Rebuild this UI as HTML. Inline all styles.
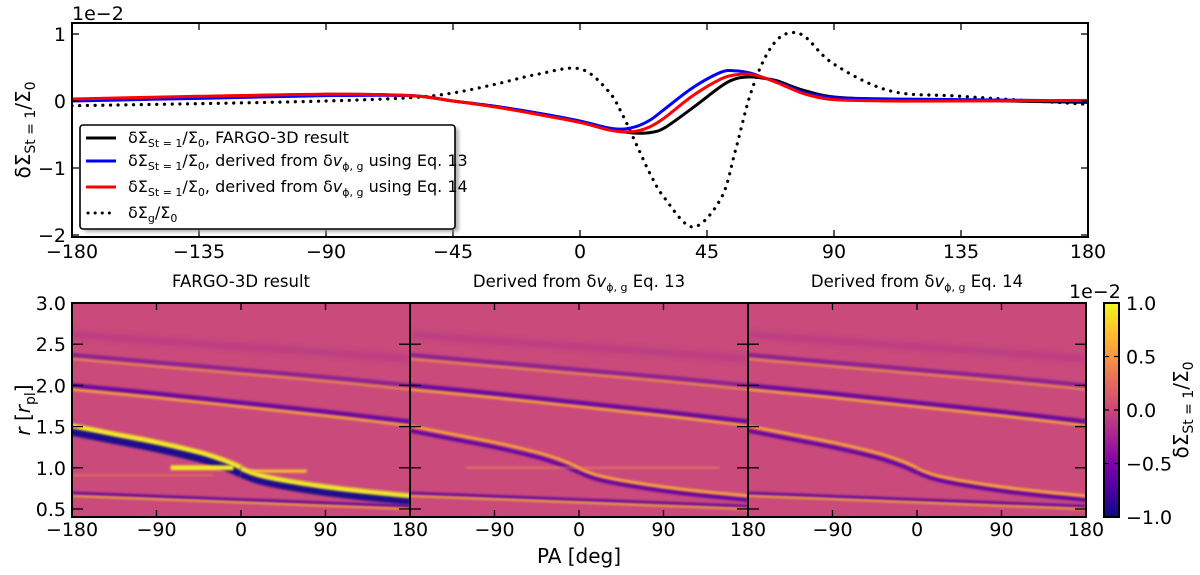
<!DOCTYPE html>
<html><head><meta charset="utf-8"><style>
html,body{margin:0;padding:0;background:#fff;width:1200px;height:575px;overflow:hidden}
svg text{font-family:"DejaVu Sans","Liberation Sans",sans-serif;fill:#000}
</style></head><body>
<svg id="fig" width="1200" height="575" viewBox="0 0 1200 575" xmlns="http://www.w3.org/2000/svg">
<defs>
<linearGradient id="plasma" x1="0" y1="1" x2="0" y2="0">
<stop offset="0" stop-color="#0d0887"/><stop offset="0.13" stop-color="#4c02a1"/><stop offset="0.25" stop-color="#7e03a8"/><stop offset="0.38" stop-color="#a92395"/><stop offset="0.5" stop-color="#cc4778"/><stop offset="0.63" stop-color="#e56b5d"/><stop offset="0.75" stop-color="#f89540"/><stop offset="0.88" stop-color="#fdc527"/><stop offset="1" stop-color="#f0f921"/>
</linearGradient>
<filter id="blur1" filterUnits="userSpaceOnUse" x="0" y="0" width="1200" height="575"><feGaussianBlur stdDeviation="1"/></filter>
<filter id="blur3" filterUnits="userSpaceOnUse" x="0" y="0" width="1200" height="575"><feGaussianBlur stdDeviation="3"/></filter>
<filter id="shadow" filterUnits="userSpaceOnUse" x="0" y="0" width="1200" height="575"><feGaussianBlur stdDeviation="1.5"/></filter>
<clipPath id="clip0"><rect x="72" y="303" width="338" height="214"/></clipPath>
<clipPath id="clip1"><rect x="410" y="303" width="338" height="214"/></clipPath>
<clipPath id="clip2"><rect x="748" y="303" width="338" height="214"/></clipPath>
<clipPath id="clipTop"><rect x="72" y="23" width="1016" height="214"/></clipPath>
</defs>
<g id="topPanel"></g>
<g id="bottomPanel"></g>
<g id="cbar"></g>
</svg>
<script>
// ---- top panel data (PA in deg, values in units of 1e-2) ----
const topPA = [-180,-135,-90,-60,-45,-30,-15,0,10,15,20,25,30,40,50,55,60,65,70,75,80,90,110,135,180];
const fargoVals = [0.02,0.05,0.1,0.08,0.0,-0.08,-0.18,-0.3,-0.42,-0.46,-0.48,-0.47,-0.4,-0.1,0.22,0.33,0.36,0.34,0.3,0.22,0.15,0.06,0.02,0.01,-0.02];
const eq13Vals = [0.0,0.04,0.08,0.08,0.0,-0.08,-0.18,-0.3,-0.4,-0.42,-0.38,-0.28,-0.12,0.2,0.43,0.45,0.42,0.35,0.28,0.2,0.12,0.05,0.03,0.02,0.0];
const eq14Vals = [0.03,0.07,0.1,0.08,0.0,-0.09,-0.2,-0.32,-0.43,-0.46,-0.45,-0.38,-0.25,0.08,0.33,0.39,0.4,0.35,0.27,0.18,0.1,0.02,0.0,0.0,0.01];
const gasVals = [-0.07,-0.04,0.0,0.05,0.12,0.25,0.4,0.48,0.15,-0.2,-0.65,-1.1,-1.45,-1.88,-1.45,-0.75,0.05,0.6,0.92,1.02,0.95,0.55,0.15,0.07,-0.05];
const topXTicks = [-180,-135,-90,-45,0,45,90,135,180];
const topYTicks = [1,0,-1,-2];
const topYLabels = ["1","0","\u22121","\u22122"];

// ---- heatmap wake data (PA deg, r in r_pl) ----
const armOuter1PA = [-180,-135,-90,-45,-20,-5,0];
const armOuter1R  = [1.51,1.41,1.31,1.19,1.10,1.03,1.0];
const armInner1PA = [0,5,20,45,90,135,180];
const armInner1R  = [1.0,0.97,0.91,0.85,0.77,0.71,0.66];
const armWrapPA = [-180,-90,0,90,180];
const armOuter2R = [1.95,1.85,1.74,1.63,1.51];
const armOuter3R = [2.32,2.23,2.14,2.05,1.95];
const armOuter4R = [2.62,2.54,2.47,2.40,2.32];
const armInner2R = [0.66,0.62,0.58,0.54,0.50];
const bottomXTicks = [-180,-90,0,90,180];
const bottomYTicks = [0.5,1.0,1.5,2.0,2.5,3.0];
const cbarTicks = [1.0,0.5,0.0,-0.5,-1.0];
const panelTitles = ["FARGO-3D result","Derived from \u03b4v_phi Eq. 13","Derived from \u03b4v_phi Eq. 14"];

const NS="http://www.w3.org/2000/svg";
function mk(tag,attrs,parent){const e=document.createElementNS(NS,tag);for(const k in attrs)e.setAttribute(k,attrs[k]);parent.appendChild(e);return e;}
function smoothPath(pts){
  let d="M"+pts[0][0].toFixed(2)+","+pts[0][1].toFixed(2);
  for(let i=0;i<pts.length-1;i++){
    const p0=pts[Math.max(0,i-1)],p1=pts[i],p2=pts[i+1],p3=pts[Math.min(pts.length-1,i+2)];
    const c1=[p1[0]+(p2[0]-p0[0])/6,p1[1]+(p2[1]-p0[1])/6];
    const c2=[p2[0]-(p3[0]-p1[0])/6,p2[1]-(p3[1]-p1[1])/6];
    d+=" C"+c1[0].toFixed(2)+","+c1[1].toFixed(2)+" "+c2[0].toFixed(2)+","+c2[1].toFixed(2)+" "+p2[0].toFixed(2)+","+p2[1].toFixed(2);
  }
  return d;
}
function fmt(v){return v<0?"\u2212"+Math.abs(v):""+v;}

// ===== TOP PANEL =====
const topG=document.getElementById('topPanel');
const xT=pa=>72+(pa+180)/360*1016;
const yT=v=>101-v*67;
mk('rect',{x:72,y:23,width:1016,height:214,fill:'#fff'},topG);
const lines=mk('g',{'clip-path':'url(#clipTop)'},topG);
function series(vals,color,w,dash,name){
  const pts=topPA.map((p,i)=>[xT(p),yT(vals[i])]);
  const a={d:smoothPath(pts),fill:'none',stroke:color,'stroke-width':w};
  if(dash){a['stroke-dasharray']=dash;a['stroke-linecap']='round';}
  const p=mk('path',a,lines);
  
  
}
series(gasVals,'#000',3.2,'0.1 7.6','series-gas-dotted');
series(fargoVals,'#000',3,null,'series-fargo');
series(eq13Vals,'#0000ff',3,null,'series-eq13');
series(eq14Vals,'#ff0000',3,null,'series-eq14');
mk('rect',{x:72,y:23,width:1016,height:214,fill:'none',stroke:'#000','stroke-width':2},topG);
topXTicks.forEach(t=>{
  const x=xT(t);
  mk('line',{x1:x,y1:237,x2:x,y2:230,stroke:'#000','stroke-width':1.3},topG);
  mk('line',{x1:x,y1:23,x2:x,y2:30,stroke:'#000','stroke-width':1.3},topG);
  const tx=mk('text',{x:x,y:258,'font-size':19,'text-anchor':'middle'},topG);tx.textContent=fmt(t);
  
  
});
topYTicks.forEach((t,i)=>{
  const y=yT(t);
  mk('line',{x1:72,y1:y,x2:79,y2:y,stroke:'#000','stroke-width':1.3},topG);
  mk('line',{x1:1088,y1:y,x2:1081,y2:y,stroke:'#000','stroke-width':1.3},topG);
  const tx=mk('text',{x:66,y:y+7,'font-size':19,'text-anchor':'end'},topG);tx.textContent=topYLabels[i];
  
  
});
(function(){
  const t=mk('text',{x:72,y:20,'font-size':19},topG);t.textContent="1e\u22122";
  
  
  const yl=mk('text',{x:0,y:0,'font-size':20,transform:'translate(30,130) rotate(-90)','text-anchor':'middle'},topG);
  yl.innerHTML='\u03b4\u03a3<tspan font-size="14" dy="5">St = 1</tspan><tspan dy="-5">/\u03a3</tspan><tspan font-size="14" dy="5">0</tspan>';
  
  
})();
// legend
(function(){
  const lg=mk('g',{},topG);
  
  
  mk('rect',{x:84,y:128,width:375,height:104,rx:3,fill:'#999',opacity:0.7,filter:'url(#shadow)'},lg);
  mk('rect',{x:80,y:125,width:375,height:104,rx:3,fill:'#fff',stroke:'#000','stroke-width':1.6},lg);
  const items=[['#000',null],['#0000ff',null],['#ff0000',null],['#000','0.1 7']];
  const ys=[138,161,187,213];
  items.forEach((it,i)=>{
    const g=mk('g',{},lg);
    
    
    const a={x1:86,y1:ys[i],x2:116,y2:ys[i],stroke:it[0],'stroke-width':3};
    if(it[1]){a['stroke-dasharray']=it[1];a['stroke-linecap']='round';a.x1=88;}
    mk('line',a,g);
    const t=mk('text',{x:128,y:ys[i]+5,'font-size':16},g);
    if(i===0) t.innerHTML='\u03b4\u03a3<tspan font-size="11" dy="4">St = 1</tspan><tspan dy="-4">/\u03a3</tspan><tspan font-size="11" dy="4">0</tspan><tspan dy="-4">, FARGO-3D result</tspan>';
    else if(i<3) t.innerHTML='\u03b4\u03a3<tspan font-size="11" dy="4">St = 1</tspan><tspan dy="-4">/\u03a3</tspan><tspan font-size="11" dy="4">0</tspan><tspan dy="-4">, derived from \u03b4</tspan><tspan font-style="italic">v</tspan><tspan font-size="11" dy="4">\u03d5, g</tspan><tspan dy="-4"> using Eq. '+(i===1?'13':'14')+'</tspan>';
    else t.innerHTML='\u03b4\u03a3<tspan font-size="11" dy="4">g</tspan><tspan dy="-4">/\u03a3</tspan><tspan font-size="11" dy="4">0</tspan>';
  });
})();

// ===== BOTTOM HEATMAPS =====
const bottomG=document.getElementById('bottomPanel');
const panelX0=[72,410,748];
const yB=r=>303+(3-r)*82.4;
const panelStyle=[[5,10,1.0,'#1c0c8c'],[2.4,4,0.9,'#5a06a4'],[2.4,4,0.9,'#5a06a4']];
for(let p=0;p<3;p++){
  const x0=panelX0[p];
  const xB=pa=>x0+(pa+180)/360*338;
  const g=mk('g',{'clip-path':'url(#clip'+p+')'},bottomG);
  
  
  mk('rect',{x:x0,y:303,width:338,height:214,fill:'#c94a7b'},g);
  const st=panelStyle[p];
  function arm(paArr,rArr,darkOff,yw,dw,op,name,dcol){
    const ptsY=paArr.map((a,i)=>[xB(a),yB(rArr[i])]);
    const ptsD=paArr.map((a,i)=>[xB(a),yB(rArr[i]+darkOff)]);
    const d1=mk('path',{d:smoothPath(ptsD),fill:'none',stroke:dcol||'#5a06a4','stroke-width':dw,opacity:op,filter:'url(#blur1)'},g);
    
    
    const d2=mk('path',{d:smoothPath(ptsY),fill:'none',stroke:p===0&&dcol?'#f3e52a':'#fbb130','stroke-width':yw,opacity:Math.min(1,op+0.1),filter:'url(#blur1)'},g);
    
    
  }
  const f1=mk('path',{d:smoothPath(armWrapPA.map((a,i)=>[xB(a),yB(armOuter4R[i])])),fill:'none',stroke:'#a4288f','stroke-width':5,opacity:0.5,filter:'url(#blur3)'},g);
  
  
  arm(armWrapPA,armOuter3R,0.05,2,4,0.55,'wake-outer-3');
  arm(armWrapPA,armOuter2R,0.05,2.2,4.5,0.85,'wake-outer-2');
  arm(armWrapPA,armInner2R,0.03,2,3.5,0.85,'wake-inner-2');
  arm(armOuter1PA,armOuter1R,-0.06,st[0],st[1],st[2],'wake-outer-1',st[3]);
  arm(armInner1PA,armInner1R,-0.05,st[0],st[1],st[2],'wake-inner-1',st[3]);
  if(p===0){
    mk('line',{x1:xB(-75),y1:yB(1.0),x2:xB(-8),y2:yB(1.0),stroke:'#f5e628','stroke-width':5,filter:'url(#blur1)'},g);
    mk('line',{x1:xB(10),y1:yB(0.96),x2:xB(70),y2:yB(0.96),stroke:'#f7c52c','stroke-width':3,filter:'url(#blur1)'},g);
    mk('line',{x1:xB(-180),y1:yB(0.91),x2:xB(-30),y2:yB(0.91),stroke:'#f08848','stroke-width':2,opacity:0.6,filter:'url(#blur1)'},g);
  } else if(p===1){
    mk('line',{x1:xB(-120),y1:yB(1.0),x2:xB(150),y2:yB(1.0),stroke:'#f59a45','stroke-width':1.5,opacity:0.7,filter:'url(#blur1)'},g);
  }
  mk('rect',{x:x0,y:303,width:338,height:214,fill:'none',stroke:'#000','stroke-width':2},bottomG);
  bottomXTicks.forEach(t=>{
    const x=xB(t);
    mk('line',{x1:x,y1:517,x2:x,y2:510,stroke:'#000','stroke-width':1.3},bottomG);
    mk('line',{x1:x,y1:303,x2:x,y2:310,stroke:'#000','stroke-width':1.3},bottomG);
    if(p>0 && t===-180) return;
    const tx=mk('text',{x:x,y:536,'font-size':19,'text-anchor':'middle'},bottomG);tx.textContent=fmt(t);
    
    
  });
  bottomYTicks.forEach(t=>{
    const y=yB(t);
    mk('line',{x1:x0,y1:y,x2:x0+11,y2:y,stroke:'#000','stroke-width':1.3},bottomG);
    mk('line',{x1:x0+338,y1:y,x2:x0+327,y2:y,stroke:'#000','stroke-width':1.3},bottomG);
    if(p===0){const tx=mk('text',{x:66,y:y+7,'font-size':19,'text-anchor':'end'},bottomG);tx.textContent=t.toFixed(1);
      
      }
  });
  const tt=mk('text',{x:x0+169,y:287,'font-size':16.5,'text-anchor':'middle'},bottomG);
  if(p===0) tt.textContent=panelTitles[0];
  else tt.innerHTML='Derived from \u03b4<tspan font-style="italic">v</tspan><tspan font-size="11" dy="4">\u03d5, g</tspan><tspan dy="-4"> Eq. '+(p===1?'13':'14')+'</tspan>';
  
  
}
(function(){
  const xl=mk('text',{x:579,y:563,'font-size':20,'text-anchor':'middle'},bottomG);xl.textContent="PA [deg]";
  
  
  const yl=mk('text',{x:0,y:0,'font-size':20,transform:'translate(30,410) rotate(-90)','text-anchor':'middle'},bottomG);
  yl.innerHTML='<tspan font-style="italic">r</tspan> [<tspan font-style="italic">r</tspan><tspan font-size="14" dy="5">pl</tspan><tspan dy="-5">]</tspan>';
  
  
})();

// ===== COLORBAR =====
const cb=document.getElementById('cbar');
mk('rect',{x:1104,y:303,width:15,height:214,fill:'url(#plasma)',stroke:'#000','stroke-width':2},cb);
const yC=v=>303+(1-v)/2*214;
cbarTicks.forEach(t=>{
  const y=yC(t);
  mk('line',{x1:1104,y1:y,x2:1109,y2:y,stroke:'#000','stroke-width':1.2},cb);
  mk('line',{x1:1119,y1:y,x2:1114,y2:y,stroke:'#000','stroke-width':1.2},cb);
  const tx=mk('text',{x:1126,y:y+7,'font-size':19},cb);tx.textContent=(t<0?"\u2212":"")+Math.abs(t).toFixed(1);
  
  
});
(function(){
  const t=mk('text',{x:1069,y:298,'font-size':19},cb);t.textContent="1e\u22122";
  
  
  const yl=mk('text',{x:0,y:0,'font-size':20,transform:'translate(1188,410) rotate(-90)','text-anchor':'middle'},cb);
  yl.innerHTML='\u03b4\u03a3<tspan font-size="14" dy="5">St = 1</tspan><tspan dy="-5">/\u03a3</tspan><tspan font-size="14" dy="5">0</tspan>';
  
  
})();
</script>
</body></html>
